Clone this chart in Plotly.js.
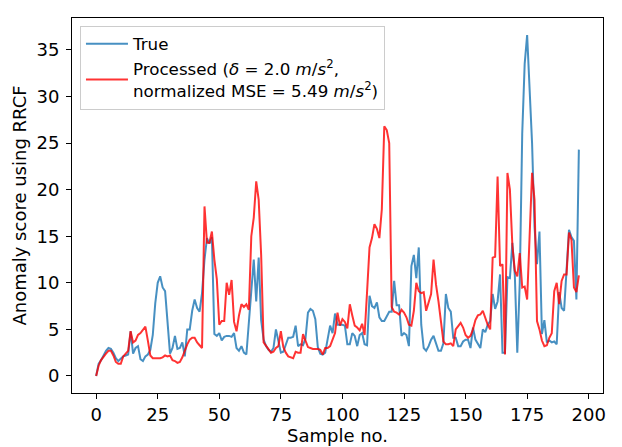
<!DOCTYPE html>
<html>
<head>
<meta charset="utf-8">
<script src="https://cdn.plot.ly/plotly-3.0.1.min.js"></script>
<style>html,body{margin:0;padding:0;background:#fff;}#chart{width:622px;height:447px;}</style>
</head>
<body>
<div id="chart"></div>
<script>
const trueScores = [0,1.3,1.7,2.2,2.7,3.0,2.9,2.5,1.9,1.6,1.9,2.1,2.2,2.3,4.8,2.4,3.0,3.2,1.8,1.6,
2.1,2.3,2.8,4.4,7.8,10.0,10.7,9.5,9.1,6.0,2.4,3.0,4.3,2.9,3.0,3.6,2.1,5.0,5.0,7.0,
8.2,7.3,6.9,8.9,12.5,14.8,14.2,14.9,4.5,4.3,4.6,3.8,4.2,4.3,4.3,4.2,4.6,3.0,2.7,3.2,
2.5,2.3,5.4,9.3,12.5,8.0,12.7,6.0,3.9,3.2,2.8,2.6,3.0,5.0,3.6,2.5,2.6,3.4,4.1,4.1,
4.2,5.4,3.2,3.4,3.3,4.0,6.8,7.2,7.0,6.1,3.1,2.4,2.3,2.5,3.9,5.4,4.6,6.7,5.5,5.5,
5.5,5.4,3.4,3.4,4.6,4.3,3.2,4.4,4.6,3.4,3.3,8.6,7.5,7.3,7.9,6.3,5.9,5.9,6.4,6.9,
6.9,10.2,7.6,7.6,4.3,4.6,4.4,3.2,11.8,13.0,10.5,13.8,5.5,3.0,2.7,3.2,3.9,4.3,3.5,2.7,
2.7,3.5,8.8,7.3,6.9,4.1,4.1,3.2,3.2,3.7,3.9,3.9,3.0,5.2,3.9,3.4,3.0,5.0,4.7,5.5,
5.9,8.8,7.2,8.0,10.9,2.5,2.5,10.6,10.5,14.3,10.8,2.5,10.0,26.0,33.5,36.6,30.5,25.0,16.0,12.0,
15.5,4.5,6.0,3.6,3.8,3.6,3.7,3.4,9.0,7.3,7.0,11.0,15.7,14.9,14.5,8.2,24.3];

const processedScores = [0,1.1,1.7,2.1,2.4,2.7,2.7,2.2,1.5,1.3,1.3,2.1,2.4,2.7,4.8,3.6,3.8,4.4,4.6,4.9,
5.3,3.8,2.2,1.9,1.9,1.9,1.9,2.0,2.2,2.1,2.2,1.7,1.6,1.4,1.5,2.0,2.8,3.4,3.9,4.1,
4.1,3.6,3.3,3.0,18.2,14.3,14.3,15.5,12.5,10.4,5.5,5.9,5.9,10.0,8.7,10.3,5.8,4.8,6.5,7.7,
7.4,7.7,7.1,15.0,17.0,20.9,18.9,13.0,3.6,3.2,2.9,2.5,2.6,3.0,3.2,4.8,3.1,2.5,2.1,2.0,
1.9,2.6,2.5,2.5,4.5,3.8,3.1,3.0,2.9,2.9,2.9,2.8,2.3,3.0,3.0,3.2,4.0,4.6,6.8,5.4,
6.1,5.8,5.1,7.7,6.5,5.4,5.2,4.9,5.6,4.4,9.0,13.8,14.8,16.3,15.8,14.8,17.9,26.8,26.4,25.0,
7.4,6.9,6.8,6.6,7.1,6.8,6.3,5.5,5.4,7.0,10.0,9.1,8.9,9.0,7.0,8.0,8.8,12.5,9.8,8.0,
5.5,3.7,3.4,3.4,3.5,3.2,5.0,5.4,5.7,5.2,4.4,4.1,4.3,5.0,6.0,6.5,6.6,7.0,6.2,5.5,
5.0,12.7,12.8,21.4,11.8,12.0,2.3,21.8,20.0,14.0,11.3,10.7,13.2,9.5,9.6,8.2,15.0,21.8,18.9,5.9,
5.0,3.8,3.2,3.3,4.1,4.6,9.1,10.0,7.7,10.2,10.9,10.9,15.4,14.6,9.5,9.0,10.8];

const sampleNo = trueScores.map((_, i) => i);
const xTicks = [0, 25, 50, 75, 100, 125, 150, 175, 200];
const yTicks = [0, 5, 10, 15, 20, 25, 30, 35];

const font = {family: 'DejaVu Sans, sans-serif', size: 18, color: '#000'};
const legendFont = {family: 'DejaVu Sans, sans-serif', size: 16.7, color: '#000'};

const traces = [
  {x: sampleNo, y: trueScores, type: 'scatter', mode: 'lines', name: 'True',
   line: {color: 'rgba(31,119,180,0.82)', width: 2}},
  {x: sampleNo, y: processedScores, type: 'scatter', mode: 'lines',
   name: 'Processed (<i>δ</i> = 2.0 <i>m</i>/<i>s</i><sup>2</sup>,<br>normalized MSE = 5.49 <i>m</i>/<i>s</i><sup>2</sup>)',
   line: {color: 'rgba(255,0,0,0.8)', width: 2}}
];

const axisCommon = {
  showline: true, mirror: true, linecolor: '#000', linewidth: 1,
  ticks: 'outside', ticklen: 5, tickwidth: 1, tickcolor: '#000',
  showgrid: false, zeroline: false, tickfont: font
};

const layout = {
  width: 622, height: 447,
  margin: {l: 72, r: 19, t: 18, b: 54},
  paper_bgcolor: '#fff', plot_bgcolor: '#fff',
  font: font,
  showlegend: true,
  legend: {x: 0.015, y: 0.98, xanchor: 'left', yanchor: 'top',
           bgcolor: 'rgba(255,255,255,0.8)', bordercolor: '#cccccc', borderwidth: 1,
           font: legendFont, valign: 'middle', itemwidth: 42},
  xaxis: Object.assign({}, axisCommon, {range: [-9.8, 205.8], tickvals: xTicks,
           title: {text: 'Sample no.', font: font, standoff: 4}}),
  yaxis: Object.assign({}, axisCommon, {range: [-1.83, 38.43], tickvals: yTicks,
           ticklabelstandoff: 3,
           title: {text: 'Anomaly score using RRCF', font: font, standoff: 5}})
};

Plotly.newPlot('chart', traces, layout, {displayModeBar: false, staticPlot: true});
</script>
</body>
</html>
